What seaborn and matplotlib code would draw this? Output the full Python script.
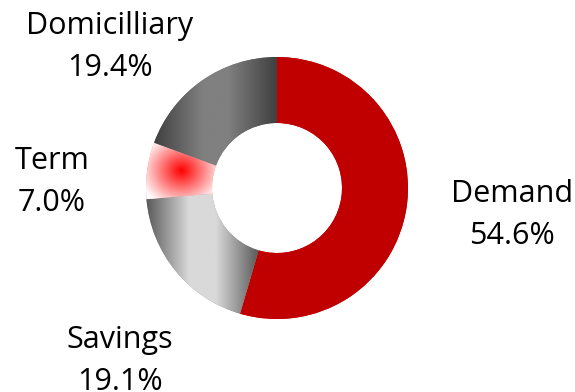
import numpy as np
import matplotlib
matplotlib.use("Agg")
import matplotlib.pyplot as plt
import seaborn as sns

# Deposit mix
categories = ["Demand", "Savings", "Term", "Domicilliary"]
shares = [54.6, 19.1, 7.0, 19.4]

sns.set_theme(style="white")
plt.rcParams["font.family"] = ["Open Sans", "DejaVu Sans"]

W, H = 575, 392
fig = plt.figure(figsize=(W / 100, H / 100), dpi=100)
ax = fig.add_axes([0, 0, 1, 1])

cx, cy, r_out = 277, 204, 131
ring = 66

wedges, _ = ax.pie(shares, startangle=90, counterclock=False,
                   center=(cx, cy), radius=r_out, frame=True,
                   colors=["#C00000", "#8C8C8C", "#FF8080", "#666666"],
                   wedgeprops=dict(width=ring, linewidth=0))
ax.set_xlim(0, W)
ax.set_ylim(0, H)
ax.set_aspect("equal")
ax.axis("off")


def hex2f(h):
    return int(h, 16) / 255.0


def linear_gray(stops, vals, n=256):
    t = np.linspace(0, 1, n)
    g = np.interp(t, stops, vals)
    img = np.repeat(g[None, :, None], 8, axis=0)
    return np.repeat(img, 3, axis=2)


def paint(wedge, img):
    ext = wedge.get_path().get_extents()
    im = ax.imshow(img, extent=(ext.x0, ext.x1, ext.y0, ext.y1), origin="lower",
                   interpolation="bilinear", aspect="auto", zorder=3)
    im.set_clip_path(wedge)


# Demand: deep red with a brighter glint at the top-left corner
w = wedges[0]
ext = w.get_path().get_extents()
nx, ny = 200, 400
xs = np.linspace(ext.x0, ext.x1, nx)
ys = np.linspace(ext.y0, ext.y1, ny)
X, Y = np.meshgrid(xs, ys)
d = np.hypot(X - ext.x0, Y - ext.y1)
k = np.clip(1 - d / 40.0, 0, 1)
img = np.zeros((ny, nx, 3))
img[..., 0] = hex2f("C0") + (hex2f("E6") - hex2f("C0")) * k
paint(w, img)

# Savings: dark edges, light centre band
paint(wedges[1], linear_gray([0, 0.38, 0.62, 1],
                             [hex2f("59"), hex2f("D9"), hex2f("D9"), hex2f("59")]))

# Term: radial red burst fading to white
w = wedges[2]
ext = w.get_path().get_extents()
nx, ny = 200, 200
xs = np.linspace(ext.x0, ext.x1, nx)
ys = np.linspace(ext.y0, ext.y1, ny)
X, Y = np.meshgrid(xs, ys)
mx, my = (ext.x0 + ext.x1) / 2, (ext.y0 + ext.y1) / 2
d = np.hypot(X - mx, (Y - my) * 1.1)
t = np.clip(d / 42.0, 0, 1)
img = np.stack([np.ones_like(t), t, t], axis=2)
paint(w, img)

# Domicilliary: dark edges, mid-gray centre band
paint(wedges[3], linear_gray([0, 0.4, 0.6, 1],
                             [hex2f("40"), hex2f("80"), hex2f("80"), hex2f("40")]))

# Category labels with their shares
label_pos = {
    "Demand": (512, 194),
    "Savings": (120, 340),
    "Term": (52, 161),
    "Domicilliary": (110, 26),
}
gap = 42
for name, val in zip(categories, shares):
    x, y = label_pos[name]
    ax.text(x, H - y, name, ha="center", va="center", fontsize=22, color="black")
    ax.text(x, H - y - gap, f"{val:.1f}%", ha="center", va="center",
            fontsize=22, color="black")

fig.savefig("out.png", dpi=100)
